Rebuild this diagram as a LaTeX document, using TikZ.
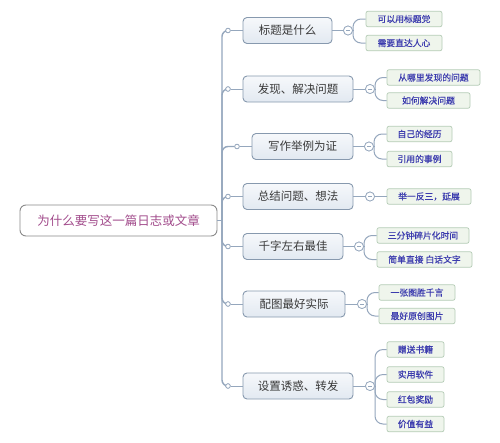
\documentclass[tikz,border=0pt]{standalone}
\usepackage{fontspec}
\newfontfamily\cjk{Noto Sans CJK SC}
\newfontfamily\cjkmed[FakeBold=0.5]{Noto Sans CJK SC}
\definecolor{connc}{HTML}{95A7BD}
\definecolor{brborder}{HTML}{8799AE}
\definecolor{brtop}{HTML}{F6F8FB}
\definecolor{brbot}{HTML}{E2E9F1}
\definecolor{brtext}{HTML}{3A3A3A}
\definecolor{chfill}{HTML}{EFF5EC}
\definecolor{chborder}{HTML}{B5CCB6}
\definecolor{chtext}{HTML}{3B3BAE}
\definecolor{roottext}{HTML}{A24C8C}
\definecolor{rootborder}{HTML}{8A8A8A}
\begin{document}
\begin{tikzpicture}[x=1pt,y=-1pt,
  rootbox/.style={draw=rootborder,line width=0.9pt,fill=white,rounded corners=6pt,inner sep=0pt,
    minimum width=197pt,minimum height=31pt,font=\cjk\fontsize{12.5}{14}\selectfont,text=roottext},
  brbox/.style={draw=brborder,line width=0.9pt,top color=brtop,bottom color=brbot,rounded corners=4pt,inner sep=0pt,
    minimum height=26pt,font=\cjk\fontsize{11.5}{13}\selectfont,text=brtext},
  chbox/.style={draw=chborder,line width=0.7pt,fill=chfill,rounded corners=2pt,inner sep=0pt,
    minimum height=15.5pt,font=\cjkmed\fontsize{8.8}{10}\selectfont,text=chtext},
  conn/.style={draw=connc,line width=1pt},
  trunkline/.style={draw=connc,line width=1.4pt,rounded corners=6pt},
  dot/.style={circle,draw=connc,fill=white,line width=0.7pt,inner sep=0pt,minimum size=4.5pt},
  minus/.style={circle,draw=connc,fill=white,line width=0.7pt,inner sep=0pt,minimum size=9pt,
    path picture={\draw[connc,line width=0.7pt] ([xshift=-2pt]path picture bounding box.center) -- ([xshift=2pt]path picture bounding box.center);}},
  fork/.style={conn,rounded corners=8pt}
]
\useasboundingbox (0,0) rectangle (500,442);
\fill[white] (0,0) rectangle (500,442);

% root
\node[rootbox] (root) at (118.5,220.5) {为什么要写这一篇日志或文章};
\coordinate (trunk) at (222,220.5);

% branch nodes
\node[brbox,minimum width=89pt] (b1) at (287.5,30.5) {标题是什么};
\node[brbox,minimum width=110pt] (b2) at (298,89) {发现、解决问题};
\node[brbox,minimum width=101pt] (b3) at (302.5,146.5) {写作举例为证};
\node[brbox,minimum width=110pt] (b4) at (298,196.5) {总结问题、想法};
\node[brbox,minimum width=100pt] (b5) at (293,246.5) {千字左右最佳};
\node[brbox,minimum width=102pt] (b6) at (294,304) {配图最好实际};
\node[brbox,minimum width=110pt] (b7) at (298,386) {设置诱惑、转发};

% small dots
\node[dot] (s1) at (228,30.5) {};
\node[dot] (s2) at (228,89) {};
\node[dot] (s3) at (237,146.5) {};
\node[dot] (s4) at (228,196.5) {};
\node[dot] (s5) at (228,246.5) {};
\node[dot] (s6) at (228,304) {};
\node[dot] (s7) at (228,386) {};

% minus circles
\node[minus] (m1) at (348,30.5) {};
\node[minus] (m2) at (370,89) {};
\node[minus] (m3) at (369,146.5) {};
\node[minus] (m4) at (370,196.5) {};
\node[minus] (m5) at (359,246.5) {};
\node[minus] (m6) at (362,304) {};
\node[minus] (m7) at (370,386) {};

% children
\node[chbox,minimum width=76pt] (c1a) at (404,19) {可以用标题党};
\node[chbox,minimum width=76pt] (c1b) at (404,43) {需要直达人心};
\node[chbox,minimum width=93pt] (c2a) at (433.5,77.5) {从哪里发现的问题};
\node[chbox,minimum width=83pt] (c2b) at (428.5,100.5) {如何解决问题};
\node[chbox,minimum width=65pt] (c3a) at (419.5,134) {自己的经历};
\node[chbox,minimum width=65pt] (c3b) at (419.5,159) {引用的事例};
\node[chbox,minimum width=84pt] (c4) at (429,196.5) {举一反三，延展};
\node[chbox,minimum width=92pt] (c5a) at (423,235.5) {三分钟碎片化时间};
\node[chbox,minimum width=95pt] (c5b) at (424.5,259.5) {简单直接 白话文字};
\node[chbox,minimum width=76pt] (c6a) at (417,292.5) {一张图胜千言};
\node[chbox,minimum width=76pt] (c6b) at (417,316) {最好原创图片};
\node[chbox,minimum width=57pt] (c7a) at (415.5,349.5) {赠送书籍};
\node[chbox,minimum width=57pt] (c7b) at (415.5,374.5) {实用软件};
\node[chbox,minimum width=57pt] (c7c) at (415.5,399.5) {红包奖励};
\node[chbox,minimum width=57pt] (c7d) at (415.5,424) {价值有益};

% fork coordinates
\coordinate (f1) at (353,30.5);
\coordinate (f2) at (375,89);
\coordinate (f3) at (374,146.5);
\coordinate (f5) at (364,246.5);
\coordinate (f6) at (367,304);
\coordinate (f7) at (375,386);

% trunk and branch links
\draw[conn,line width=1.4pt] (root.east) -- (trunk);
\foreach \i in {1,...,7}{
  \draw[trunkline] (trunk) |- (s\i);
  \draw[conn] (s\i) -- (b\i);
  \draw[conn] (b\i) -- (m\i);
}

% child links
\draw[conn] (m1) -- (f1);
\draw[fork] (f1) |- (c1a);
\draw[fork] (f1) |- (c1b);
\draw[conn] (m2) -- (f2);
\draw[fork] (f2) |- (c2a);
\draw[fork] (f2) |- (c2b);
\draw[conn] (m3) -- (f3);
\draw[fork] (f3) |- (c3a);
\draw[fork] (f3) |- (c3b);
\draw[conn] (m4) -- (c4);
\draw[conn] (m5) -- (f5);
\draw[fork] (f5) |- (c5a);
\draw[fork] (f5) |- (c5b);
\draw[conn] (m6) -- (f6);
\draw[fork] (f6) |- (c6a);
\draw[fork] (f6) |- (c6b);
\draw[conn] (m7) -- (f7);
\draw[fork] (f7) |- (c7a);
\draw[fork] (f7) |- (c7b);
\draw[fork] (f7) |- (c7c);
\draw[fork] (f7) |- (c7d);

% redraw dots and minus circles on top
\foreach \i in {1,...,7}{
  \node[dot] at (s\i) {};
  \node[minus] at (m\i) {};
}
\end{tikzpicture}
\end{document}
